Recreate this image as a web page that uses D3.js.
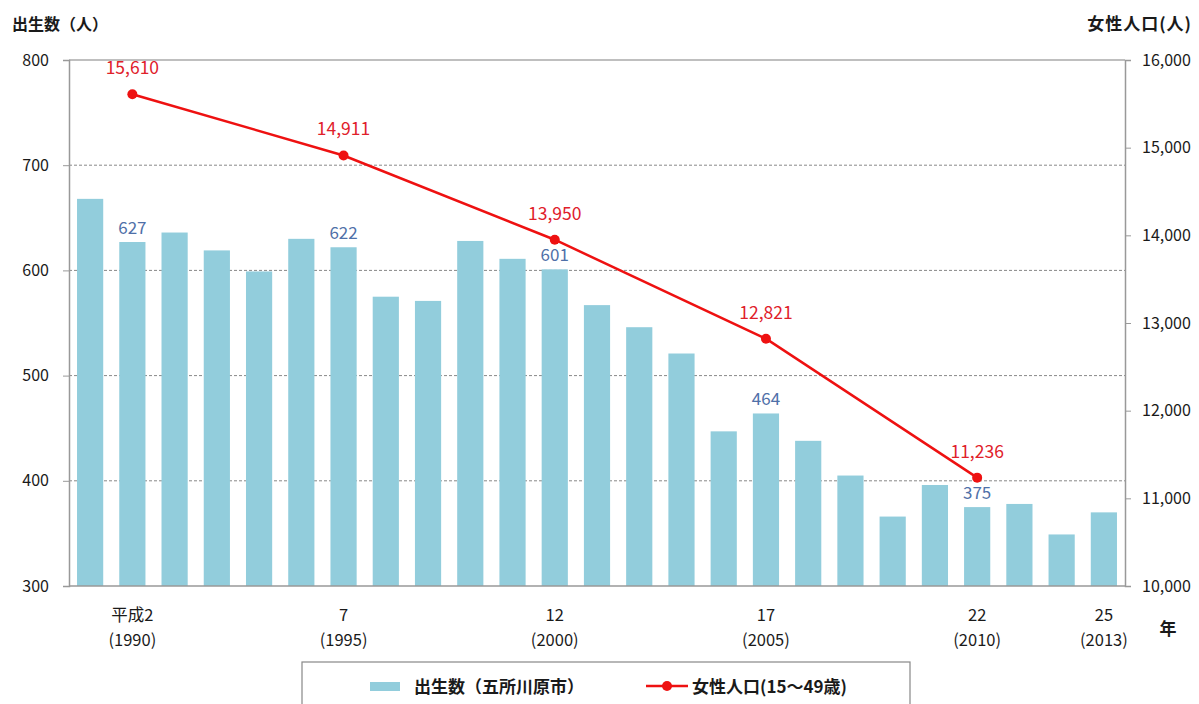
<!DOCTYPE html>
<meta charset="utf-8">
<style>
    body { margin: 0; background: #fff; }
    text { font-family: "Noto Sans CJK JP", "Noto Sans", sans-serif; }
    .tick text { font-size: 16px; fill: #1a1a1a; }
</style>
<svg width="1199" height="704"></svg>
<script src="https://d3js.org/d3.v7.min.js"></script>
<script>

    // 出生数（五所川原市）, 1989-2013
    var years = d3.range(1989, 2014);
    var births = [668, 627, 636, 619, 599, 630, 622, 575, 571, 628, 611, 601, 567,
        546, 521, 447, 464, 438, 405, 366, 396, 375, 378, 349, 370];
    var labeledYears = [1990, 1995, 2000, 2005, 2010];

    // 女性人口(15～49歳)
    var popYears = [1990, 1995, 2000, 2005, 2010];
    var popValues = [15610, 14911, 13950, 12821, 11236];

    // x tick labels
    var tickYears = [1990, 1995, 2000, 2005, 2010, 2013];
    var tickEra = ["平成2", "7", "12", "17", "22", "25"];

    var svg = d3.select("svg");
    var plotLeft = 69, plotRight = 1125, plotTop = 60, plotBottom = 586;

    var x = d3.scaleBand().domain(years).range([plotLeft, plotRight])
        .paddingInner(0.38).paddingOuter(0.19);
    var yL = d3.scaleLinear().domain([300, 800]).range([plotBottom, plotTop]);
    var yR = d3.scaleLinear().domain([10000, 16000]).range([plotBottom, plotTop]);

    // grid lines
    svg.append("g").selectAll("line")
        .data([400, 500, 600, 700])
        .enter().append("line")
        .attr("x1", plotLeft).attr("x2", plotRight)
        .attr("y1", d => yL(d)).attr("y2", d => yL(d))
        .attr("stroke", "#888").attr("stroke-width", 1)
        .attr("stroke-dasharray", "3,2");
    svg.append("line")
        .attr("x1", plotLeft).attr("x2", plotRight)
        .attr("y1", yL(800)).attr("y2", yL(800))
        .attr("stroke", "#aaa").attr("stroke-width", 1.5);

    // bars
    svg.append("g").selectAll("rect")
        .data(years)
        .enter().append("rect")
        .attr("x", d => x(d))
        .attr("width", x.bandwidth())
        .attr("y", (d, i) => yL(births[i]))
        .attr("height", (d, i) => plotBottom - yL(births[i]))
        .attr("fill", "#92cddc");

    // bar labels
    svg.append("g").selectAll("text")
        .data(labeledYears)
        .enter().append("text")
        .attr("x", d => x(d) + x.bandwidth() / 2)
        .attr("y", d => yL(births[years.indexOf(d)]) - 8)
        .attr("text-anchor", "middle")
        .attr("font-size", 17)
        .attr("fill", "#4f70a8")
        .text(d => births[years.indexOf(d)]);

    // axes
    var axL = svg.append("g")
        .attr("transform", "translate(" + plotLeft + ",0)")
        .call(d3.axisLeft(yL).tickValues([300, 400, 500, 600, 700, 800])
            .tickSize(6).tickPadding(14));
    var axR = svg.append("g")
        .attr("transform", "translate(" + plotRight + ",0)")
        .call(d3.axisRight(yR).tickValues(d3.range(10000, 16001, 1000))
            .tickSize(6).tickPadding(11).tickFormat(d3.format(",")));
    [axL, axR].forEach(function (g) {
        g.select(".domain").attr("stroke", "#999").attr("stroke-width", 1.5);
        g.selectAll(".tick line").attr("stroke", "#999");
    });
    svg.append("line")
        .attr("x1", plotLeft).attr("x2", plotRight)
        .attr("y1", plotBottom).attr("y2", plotBottom)
        .attr("stroke", "#999").attr("stroke-width", 1.5);

    // x labels
    var xl = svg.append("g").selectAll("g")
        .data(tickYears)
        .enter().append("g")
        .attr("transform", d => "translate(" + (x(d) + x.bandwidth() / 2) + ",0)");
    xl.append("text").attr("y", 621).attr("text-anchor", "middle")
        .attr("font-size", 16.5).attr("fill", "#1a1a1a")
        .text((d, i) => tickEra[i]);
    xl.append("text").attr("y", 646).attr("text-anchor", "middle")
        .attr("font-size", 16.5).attr("fill", "#1a1a1a")
        .text(d => "(" + d + ")");
    svg.append("text").attr("x", 1168).attr("y", 635).attr("text-anchor", "middle")
        .attr("font-size", 17).attr("font-weight", "bold").attr("fill", "#1a1a1a").text("年");

    // axis titles
    svg.append("text").attr("x", 12).attr("y", 30)
        .attr("font-size", 16).attr("font-weight", "bold").attr("fill", "#1a1a1a")
        .text("出生数（人）");
    svg.append("text").attr("x", 1192).attr("y", 30).attr("text-anchor", "end")
        .attr("font-size", 17).attr("font-weight", "bold").attr("fill", "#1a1a1a")
        .attr("letter-spacing", 1)
        .text("女性人口(人)");

    // line
    var cx = d => x(d) + x.bandwidth() / 2;
    var line = d3.line()
        .x(d => cx(d))
        .y((d, i) => yR(popValues[i]));
    svg.append("path")
        .datum(popYears)
        .attr("d", line)
        .attr("fill", "none")
        .attr("stroke", "#ee1111")
        .attr("stroke-width", 2.5);
    svg.append("g").selectAll("circle")
        .data(popYears)
        .enter().append("circle")
        .attr("cx", d => cx(d))
        .attr("cy", (d, i) => yR(popValues[i]))
        .attr("r", 5)
        .attr("fill", "#ee1111");
    svg.append("g").selectAll("text")
        .data(popYears)
        .enter().append("text")
        .attr("x", d => cx(d))
        .attr("y", (d, i) => yR(popValues[i]) - 20)
        .attr("text-anchor", "middle")
        .attr("font-size", 17.5)
        .attr("fill", "#e0202a")
        .text((d, i) => d3.format(",")(popValues[i]));

    // legend
    var lg = svg.append("g");
    lg.append("rect").attr("x", 302).attr("y", 662).attr("width", 608).attr("height", 60)
        .attr("fill", "#fff").attr("stroke", "#888").attr("stroke-width", 1.2);
    lg.append("rect").attr("x", 370).attr("y", 682).attr("width", 30).attr("height", 9)
        .attr("fill", "#92cddc");
    lg.append("text").attr("x", 414).attr("y", 693).attr("font-size", 17)
        .attr("font-weight", "bold").attr("fill", "#1a1a1a").text("出生数（五所川原市）");
    lg.append("line").attr("x1", 646).attr("x2", 688).attr("y1", 686).attr("y2", 686)
        .attr("stroke", "#ee1111").attr("stroke-width", 2.5);
    lg.append("circle").attr("cx", 667).attr("cy", 686).attr("r", 5).attr("fill", "#ee1111");
    lg.append("text").attr("x", 692).attr("y", 693).attr("font-size", 17)
        .attr("font-weight", "bold").attr("fill", "#1a1a1a").text("女性人口(15～49歳)");

</script>
